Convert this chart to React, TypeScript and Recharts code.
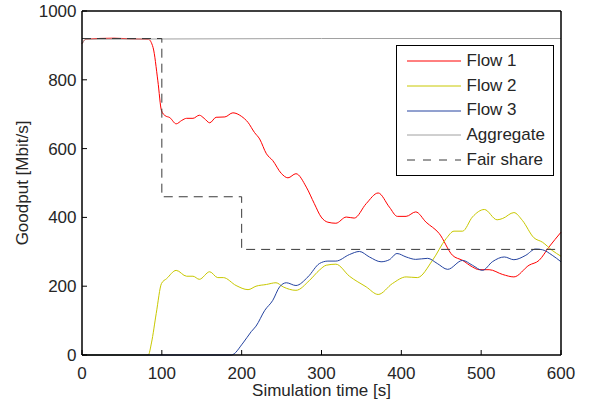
import React from "react"
import { LineChart, Line, XAxis, YAxis, Legend } from "recharts"

// Goodput per flow over simulation time
const flow1 = [
  [0, 905], [5, 918], [40, 921], [60, 919], [83, 918], [89, 894], [95, 797],
  [99.6, 710], [104, 696], [110, 690], [118, 672], [125, 682], [131, 688],
  [139, 688], [147, 697], [153, 688], [160, 675], [168, 691], [179, 692],
  [189, 704], [199.6, 694], [208, 676], [216, 647], [222.5, 628], [231, 585],
  [239, 565], [249.6, 528], [258, 515], [268, 527], [281, 488], [291, 440],
  [299.6, 401], [308, 386], [318, 383], [331, 401], [341, 398], [356, 440],
  [371, 471], [385, 430], [395, 403], [406, 403], [418, 416], [431, 386],
  [447.5, 353], [464, 290], [476.7, 275], [489, 256], [497.5, 248], [510, 248],
  [527, 234], [541, 227], [560, 261], [572.5, 275], [585, 314], [600, 357],
]
const flow2 = [
  [0, 0], [83, 0], [87, 35], [93, 121], [99.6, 208], [106, 222], [118, 246],
  [131, 229], [139, 229], [147, 220], [160, 242], [170, 225], [177, 225],
  [193, 202], [208, 190], [218, 200], [231, 205], [243, 210], [252, 198],
  [268, 188], [285, 217], [297.5, 247], [306, 261], [318, 264], [335, 229],
  [356, 198], [371, 176], [389, 208], [406, 227], [420, 225], [439, 275],
  [456, 338], [466, 360], [476.7, 360], [489, 401], [504, 423], [520, 393],
  [527, 397], [541, 414], [551.7, 391], [566, 341], [576.7, 328], [589, 304],
  [600, 287],
]
const flow3 = [
  [0, 0], [187, 0], [201.7, 35], [212, 68], [218, 84], [229, 130], [239, 159],
  [247.5, 198], [256, 210], [268, 202], [283, 227], [297.5, 266], [308, 273],
  [318, 273], [335, 292], [347.5, 301], [360, 285], [374.6, 271], [385, 277],
  [394.6, 295], [406, 285], [418, 278], [433, 281], [445, 266], [458, 249],
  [476.7, 275], [489, 261], [501.7, 246], [514, 271], [529, 285], [541, 277],
  [556, 290], [568, 308], [576.7, 306], [589, 290], [600, 271],
]
const aggregate = [[0, 905], [4, 918], [300, 920], [600, 920]]
const fairShare = [[0, 920], [100, 460], [200, 307], [600, 307]]

const xTicks = [0, 100, 200, 300, 400, 500, 600]
const yTicks = [0, 200, 400, 600, 800, 1000]

const toPoints = (arr: number[][]) => arr.map(([t, v]) => ({ t, v }))

const FONT = "'Liberation Sans', Arial, Helvetica, sans-serif"
const TEXT = "#262626"
const TICK_LEN = 5

const series = [
  { name: "Flow 1", data: flow1, color: "#ff0000", dash: undefined, type: "monotone" },
  { name: "Flow 2", data: flow2, color: "#c8c800", dash: undefined, type: "monotone" },
  { name: "Flow 3", data: flow3, color: "#2443a0", dash: undefined, type: "monotone" },
  { name: "Aggregate", data: aggregate, color: "#a0a0a0", dash: undefined, type: "linear" },
  { name: "Fair share", data: fairShare, color: "#3a3a3a", dash: "9 6", type: "stepAfter" },
]

// inward-pointing ticks, MATLAB style
const BottomTick = ({ x, y, payload }: any) => (
  <g>
    <line x1={x} x2={x} y1={y} y2={y - TICK_LEN} stroke="#000" />
    <text x={x} y={y + 23.5} textAnchor="middle" fill={TEXT} fontSize={17} fontFamily={FONT}>
      {payload.value}
    </text>
  </g>
)
const LeftTick = ({ x, y, payload }: any) => (
  <g>
    <line x1={x} x2={x + TICK_LEN} y1={y} y2={y} stroke="#000" />
    <text x={x - 5.5} y={y + 6} textAnchor="end" fill={TEXT} fontSize={17} fontFamily={FONT}>
      {payload.value}
    </text>
  </g>
)
const TopTick = ({ x, y }: any) => (
  <line x1={x} x2={x} y1={y} y2={y + TICK_LEN} stroke="#000" />
)
const RightTick = ({ x, y }: any) => (
  <line x1={x} x2={x - TICK_LEN} y1={y} y2={y} stroke="#000" />
)

function LegendBox() {
  return (
    <div
      style={{
        boxSizing: "border-box",
        width: 158,
        height: 131,
        border: "1.5px solid #000",
        background: "#fff",
        padding: "3px 0 0 9.5px",
        fontFamily: FONT,
        fontSize: 17,
        color: TEXT,
      }}
    >
      {series.map((s) => (
        <div key={s.name} style={{ display: "flex", alignItems: "center", height: 24.7 }}>
          <svg width={54} height={6} style={{ display: "block" }}>
            <line
              x1={0}
              x2={54}
              y1={3}
              y2={3}
              stroke={s.color}
              strokeWidth={1}
              strokeDasharray={s.dash ? "8 8" : undefined}
            />
          </svg>
          <span style={{ marginLeft: 6, lineHeight: "24.7px" }}>{s.name}</span>
        </div>
      ))}
    </div>
  )
}

export default function App() {
  const axisLine = { stroke: "#000", strokeWidth: 1.5 }
  return (
    <div style={{ position: "absolute", left: 0, top: 0, width: 589, height: 405, background: "#fff" }}>
      <LineChart width={589} height={405} margin={{ top: 10, right: 27, bottom: 0, left: 0 }}>
        <XAxis
          xAxisId="b"
          dataKey="t"
          type="number"
          domain={[0, 600]}
          ticks={xTicks}
          interval={0}
          height={50}
          tickSize={0}
          tickMargin={0}
          tick={<BottomTick />}
          axisLine={axisLine}
          tickLine={false}
          label={{
            value: "Simulation time [s]",
            position: "insideBottom",
            offset: 9,
            fill: TEXT,
            fontSize: 17,
            fontFamily: FONT,
          }}
        />
        <XAxis
          xAxisId="top"
          orientation="top"
          dataKey="t"
          type="number"
          domain={[0, 600]}
          ticks={xTicks}
          interval={0}
          height={1}
          tickSize={0}
          tickMargin={0}
          tick={<TopTick />}
          axisLine={axisLine}
          tickLine={false}
        />
        <YAxis
          yAxisId="l"
          type="number"
          domain={[0, 1000]}
          ticks={yTicks}
          interval={0}
          width={82}
          tickSize={0}
          tickMargin={0}
          tick={<LeftTick />}
          axisLine={axisLine}
          tickLine={false}
          label={{
            value: "Goodput [Mbit/s]",
            angle: -90,
            position: "insideLeft",
            offset: 22,
            fill: TEXT,
            fontSize: 17,
            fontFamily: FONT,
            style: { textAnchor: "middle" },
          }}
        />
        <YAxis
          yAxisId="r"
          orientation="right"
          type="number"
          domain={[0, 1000]}
          ticks={yTicks}
          interval={0}
          width={1}
          tickSize={0}
          tickMargin={0}
          tick={<RightTick />}
          axisLine={axisLine}
          tickLine={false}
        />
        {series.map((s) => (
          <Line
            key={s.name}
            xAxisId="b"
            yAxisId="l"
            data={toPoints(s.data)}
            dataKey="v"
            name={s.name}
            type={s.type as any}
            stroke={s.color}
            strokeWidth={1}
            strokeDasharray={s.dash}
            dot={false}
            activeDot={false}
            isAnimationActive={false}
          />
        ))}
        <Legend
          layout="vertical"
          align="center"
          verticalAlign="middle"
          content={() => <LegendBox />}
          wrapperStyle={{ left: 396, top: 45, width: 158, height: 131 }}
        />
      </LineChart>
    </div>
  )
}
